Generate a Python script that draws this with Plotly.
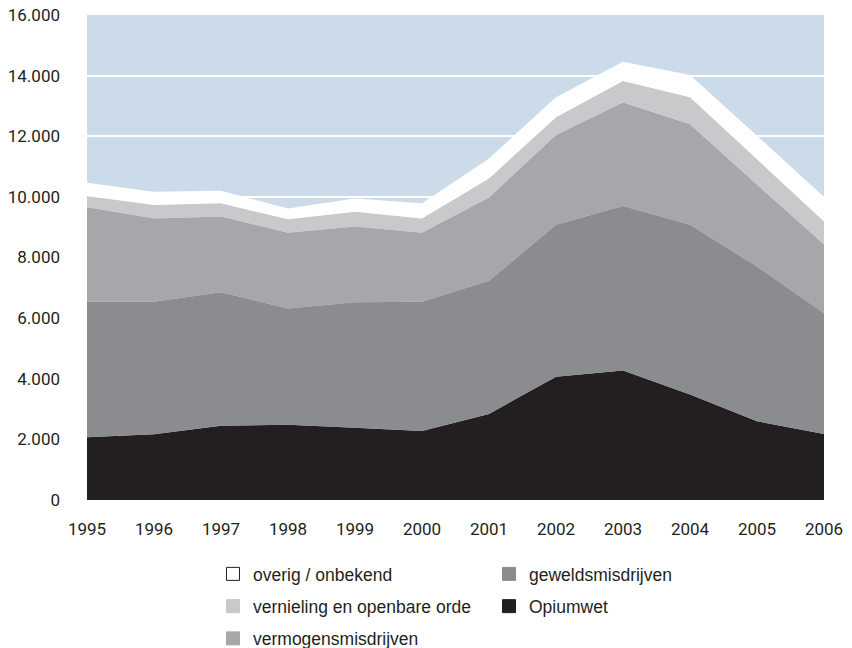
import plotly.graph_objects as go

years = [1995, 1996, 1997, 1998, 1999, 2000, 2001, 2002, 2003, 2004, 2005, 2006]
opiumwet = [2070, 2170, 2450, 2480, 2380, 2280, 2840, 4070, 4270, 3480, 2600, 2180]
geweld = [4470, 4370, 4400, 3840, 4140, 4260, 4390, 5010, 5430, 5600, 5100, 3980]
vermogen = [3120, 2750, 2500, 2500, 2500, 2280, 2750, 2960, 3410, 3320, 2700, 2270]
vernieling = [370, 440, 440, 440, 490, 470, 630, 590, 710, 890, 840, 760]
overig = [440, 440, 410, 360, 440, 500, 660, 660, 640, 730, 780, 810]
y_ticks = [0, 2000, 4000, 6000, 8000, 10000, 12000, 14000, 16000]

series = [
    ("Opiumwet", opiumwet, "#231F20"),
    ("geweldsmisdrijven", geweld, "#8B8C90"),
    ("vermogensmisdrijven", vermogen, "#A6A7AB"),
    ("vernieling en openbare orde", vernieling, "#C8C9CB"),
    ("overig / onbekend", overig, "#FFFFFF"),
]

fig = go.Figure()
for name, vals, col in series:
    fig.add_trace(go.Scatter(
        x=years, y=vals, name=name, stackgroup="s", mode="none",
        fillcolor=col, line=dict(width=0), showlegend=False, hoverinfo="x+y+name"))

# legend entries (square markers) in two columns
col1 = [("overig / onbekend", "#FFFFFF", "#231F20"),
        ("vernieling en openbare orde", "#C8C9CB", "#C8C9CB"),
        ("vermogensmisdrijven", "#A6A7AB", "#A6A7AB")]
col2 = [("geweldsmisdrijven", "#8B8C90", "#8B8C90"),
        ("Opiumwet", "#231F20", "#231F20")]
for i, (name, col, lc) in enumerate(col1):
    fig.add_trace(go.Scatter(x=[None], y=[None], mode="markers", name=name,
                             marker=dict(symbol="square", size=13, color=col, line=dict(color=lc, width=1)),
                             legend="legend", legendgroup="a%d" % i))
for i, (name, col, lc) in enumerate(col2):
    fig.add_trace(go.Scatter(x=[None], y=[None], mode="markers", name=name,
                             marker=dict(symbol="square", size=13, color=col, line=dict(color=lc, width=1)),
                             legend="legend2", legendgroup="b%d" % i))

W, H = 852, 648
legend_common = dict(orientation="v", yanchor="top", xanchor="left", bgcolor="rgba(0,0,0,0)",
                     font=dict(size=17.5, color="#231F20", family="Liberation Sans, Arial"),
                     tracegroupgap=6.5, itemwidth=30, xref="container", yref="container",
                     y=1 - 556 / H)

fig.update_layout(
    width=W, height=H,
    margin=dict(l=87, r=28, t=15, b=148, autoexpand=False),
    paper_bgcolor="white",
    plot_bgcolor="#CCDBEA",
    separators=",.",
    font=dict(family="Roboto", size=17, color="#231F20"),
    legend=dict(x=213 / W, **legend_common),
    legend2=dict(x=489 / W, **legend_common),
    xaxis=dict(range=[1995, 2006], tickvals=years, showgrid=False, zeroline=False,
               ticks="", ticklabelstandoff=17, tickfont=dict(size=17),
               ticklabeloverflow="allow"),
    yaxis=dict(range=[0, 16000], tickvals=y_ticks, tickformat=",d", showgrid=True,
               gridcolor="white", gridwidth=2, zeroline=False, ticks="",
               ticklabelstandoff=26, tickfont=dict(size=17),
               ticklabeloverflow="allow"),
)

fig.write_html("out.html", config={"displayModeBar": False},
               post_script="document.body.style.margin='0';document.body.style.overflow='hidden';")
